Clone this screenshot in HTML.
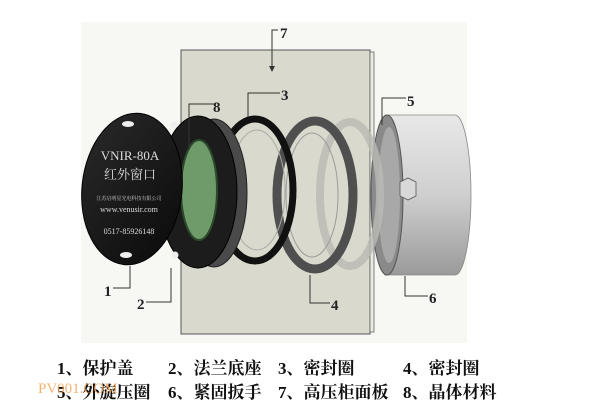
<!DOCTYPE html>
<html><head><meta charset="utf-8"><style>
html,body{margin:0;padding:0;background:#fff;width:605px;height:414px;overflow:hidden}
svg{display:block}
text{font-family:"Liberation Serif","Noto Serif CJK SC",serif}
</style></head><body>
<svg width="605" height="414" viewBox="0 0 605 414" xmlns="http://www.w3.org/2000/svg">
<defs>
<linearGradient id="cyl" x1="0" y1="0" x2="0" y2="1">
<stop offset="0" stop-color="#e8e8e8"/><stop offset="0.5" stop-color="#cfcfcf"/><stop offset="1" stop-color="#9a9a9a"/>
</linearGradient>
<linearGradient id="cov" x1="0" y1="0" x2="1" y2="1">
<stop offset="0" stop-color="#2a2a2a"/><stop offset="1" stop-color="#0a0a0a"/>
</linearGradient>
</defs>
<rect x="81" y="22" width="386" height="321" fill="#f7f7f3"/>
<rect x="181" y="50" width="189" height="284" fill="#d9dacd" stroke="#555" stroke-width="1"/>
<rect x="370" y="52" width="4" height="280" fill="#eaeae2" stroke="#666" stroke-width="0.8"/>
<polyline points="278,30 272,30 272,70" fill="none" stroke="#333" stroke-width="1"/>
<polygon points="269,66 275,66 272,72" fill="#333"/>
<text x="280" y="38" font-size="15" font-weight="bold" fill="#222">7</text>
<path d="M385,115 L455,115 A16,80 0 0 1 455,275 L385,275 Z" fill="url(#cyl)" stroke="#888" stroke-width="0.8"/>
<ellipse cx="387" cy="195" rx="16" ry="80" fill="#8a8a8a" stroke="#555"/>
<ellipse cx="389" cy="195" rx="11" ry="68" fill="#a8a8a8"/>
<path d="M400,182 l8,-4 l8,4 l0,14 l-8,4 l-8,-4 Z" fill="#d8d8d8" stroke="#555" stroke-width="0.8"/>
<ellipse cx="350" cy="194" rx="30" ry="72" fill="none" stroke="#b9b9b4" stroke-width="8" opacity="0.8"/>
<ellipse cx="315" cy="195" rx="38" ry="74" fill="none" stroke="#4f4f4f" stroke-width="9"/>
<ellipse cx="312" cy="195" rx="26" ry="62" fill="none" stroke="#9a9a9a" stroke-width="1"/>
<ellipse cx="255" cy="190" rx="38" ry="71" fill="none" stroke="#111" stroke-width="7"/>
<ellipse cx="257" cy="190" rx="28" ry="60" fill="none" stroke="#aaa" stroke-width="1"/>
<ellipse cx="214" cy="193" rx="33" ry="74" fill="#4a4a4a" stroke="#222"/>
<ellipse cx="198" cy="192" rx="39" ry="76" fill="#1c1c1c" stroke="#000"/>
<ellipse cx="199" cy="190" rx="18" ry="50" fill="#6f9a6a" stroke="#2a4a2a" stroke-width="2"/>
<circle cx="174" cy="125" r="3.5" fill="#eee"/>
<circle cx="175" cy="255" r="3.5" fill="#eee"/>
<ellipse cx="132" cy="189" rx="50" ry="76" transform="rotate(6 132 189)" fill="url(#cov)" stroke="#000"/>
<ellipse cx="128" cy="124" rx="6" ry="3" fill="#eee"/>
<ellipse cx="126" cy="255" rx="6" ry="3" fill="#eee"/>
<text x="130" y="160" font-size="13" fill="#ddd" text-anchor="middle">VNIR-80A</text>
<text x="130" y="179" font-size="13" fill="#ddd" text-anchor="middle">红外窗口</text>
<text x="129" y="200" font-size="5" fill="#ccc" text-anchor="middle">江苏启明星光电科技有限公司</text>
<text x="129" y="212" font-size="8" fill="#ddd" text-anchor="middle">www.venusir.com</text>
<text x="129" y="234" font-size="8" fill="#ddd" text-anchor="middle">0517-85926148</text>
<g stroke="#333" stroke-width="1" fill="none">
<polyline points="214,104 189,104 189,150"/>
<polyline points="280,93 248,93 248,117"/>
<polyline points="406,98 382,98 382,125"/>
<polyline points="113,288 130,288 130,266"/>
<polyline points="146,302 171,302 171,268"/>
<polyline points="330,303 310,303 310,275"/>
<polyline points="428,296 405,296 405,276"/>
</g>
<g font-size="15" font-weight="bold" fill="#222">
<text x="213" y="112">8</text>
<text x="281" y="100">3</text>
<text x="407" y="106">5</text>
<text x="104" y="296">1</text>
<text x="137" y="309">2</text>
<text x="331" y="310">4</text>
<text x="429" y="303">6</text>
</g>
<g font-size="17" font-weight="bold" fill="#111">
<text x="57" y="374">1、保护盖</text>
<text x="168" y="374">2、法兰底座</text>
<text x="278" y="374">3、密封圈</text>
<text x="403" y="374">4、密封圈</text>
<text x="57" y="398">5、外旋压圈</text>
<text x="168" y="398">6、紧固扳手</text>
<text x="278" y="398">7、高压柜面板</text>
<text x="403" y="398">8、晶体材料</text>
</g>
<text x="38" y="393" font-size="15" fill="#f0a050" opacity="0.8" font-family="Liberation Sans,sans-serif">PV001.COM</text>
</svg>
</body></html>
